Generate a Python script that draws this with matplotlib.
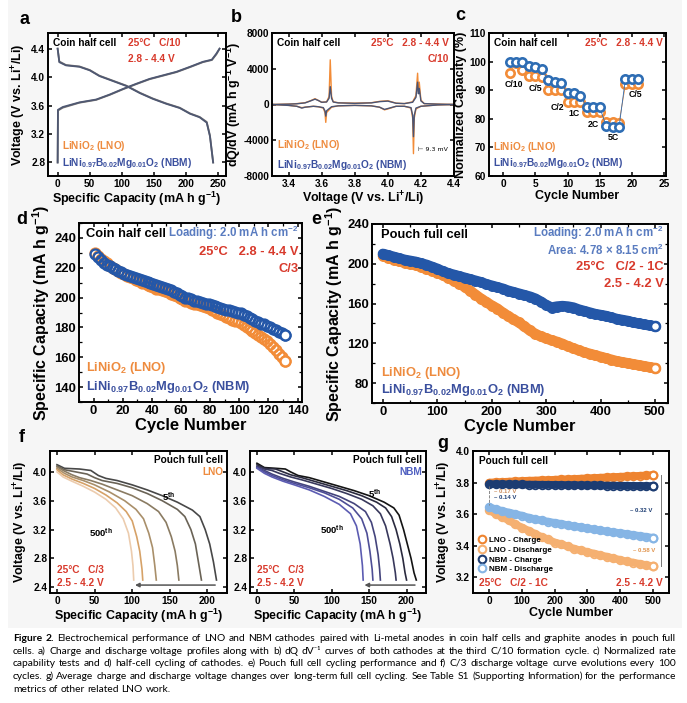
import matplotlib
matplotlib.use("Agg")
import matplotlib.pyplot as plt
from matplotlib.lines import Line2D
from matplotlib.patches import Rectangle
from matplotlib.ticker import AutoMinorLocator

plt.rcParams["font.family"] = ["Liberation Sans", "DejaVu Sans"]
plt.rcParams["font.weight"] = "bold"
plt.rcParams["axes.labelweight"] = "bold"
plt.rcParams["axes.unicode_minus"] = False
plt.rcParams["mathtext.fontset"] = "custom"
plt.rcParams["mathtext.rm"] = "Liberation Sans:bold"
plt.rcParams["mathtext.it"] = "Liberation Sans:bold:italic"
plt.rcParams["mathtext.bf"] = "Liberation Sans:bold"
plt.rcParams["mathtext.default"] = "rm"

W, H = 687, 703

ORANGE = "#f28c38"
BLUE = "#2457a8"
TXT_ORANGE = "#ee8b3e"
TXT_BLUE = "#3a4f9e"
RED = "#d83a2c"
LOAD_BLUE = "#5a7cc0"

LNO_LABEL = "LiNiO$_2$ (LNO)"
NBM_LABEL = "LiNi$_{0.97}$B$_{0.02}$Mg$_{0.01}$O$_2$ (NBM)"

# ---- a) charge / discharge profiles (C/10)
a_chg_cap = [0, 0.5, 8, 34, 60, 81, 102, 122, 143, 164, 185, 206, 226, 240, 247, 252]
a_chg_v = [2.80, 3.53, 3.57, 3.64, 3.68, 3.75, 3.83, 3.90, 3.97, 4.02, 4.07, 4.14, 4.21, 4.24, 4.32, 4.40]
a_dis_cap = [0, 2.6, 13, 34, 50, 65, 86, 107, 128, 148, 169, 190, 206, 221, 232, 237, 242]
a_dis_v = [4.40, 4.22, 4.17, 4.15, 4.10, 4.02, 3.95, 3.88, 3.78, 3.70, 3.63, 3.57, 3.49, 3.44, 3.37, 3.18, 2.80]
a_nbm_chg_v = [2.80, 3.54, 3.58, 3.645, 3.685, 3.755, 3.835, 3.905, 3.975, 4.025, 4.075, 4.145, 4.215, 4.245, 4.33, 4.40]
a_nbm_dis_v = [4.40, 4.21, 4.165, 4.145, 4.095, 4.015, 3.945, 3.875, 3.775, 3.695, 3.625, 3.565, 3.485, 3.435, 3.36, 3.17, 2.80]

# ---- b) dQ/dV
b_v_chg = [3.30, 3.40, 3.45, 3.50, 3.53, 3.56, 3.58, 3.60, 3.63, 3.645, 3.652, 3.66, 3.67, 3.70,
           3.80, 3.90, 3.95, 4.00, 4.05, 4.10, 4.15, 4.17, 4.18, 4.185, 4.19, 4.20, 4.22, 4.30, 4.40]
b_lno_chg = [0, 50, 100, 200, 400, 650, 450, 250, 300, 900, 5000, 900, 300, 200,
             150, 200, 350, 420, 150, 100, 300, 1000, 3500, 1400, 2500, 500, 100, 50, 0]
b_nbm_chg = [0, 40, 80, 180, 380, 600, 450, 250, 280, 700, 2000, 700, 280, 180,
             130, 180, 320, 380, 140, 100, 250, 800, 2500, 1200, 1800, 400, 100, 40, 0]
b_v_dis = [3.30, 3.40, 3.45, 3.48, 3.50, 3.55, 3.58, 3.61, 3.62, 3.625, 3.63, 3.66, 3.70, 3.80,
           3.90, 3.95, 3.98, 4.00, 4.05, 4.10, 4.14, 4.15, 4.155, 4.16, 4.17, 4.20, 4.30, 4.40]
b_lno_dis = [0, -100, -200, -350, -300, -200, -250, -400, -900, -2000, -900, -300, -150, -100,
             -150, -300, -600, -500, -200, -200, -400, -1500, -5500, -1500, -500, -200, -50, 0]
b_nbm_dis = [0, -100, -200, -400, -300, -200, -250, -350, -700, -1300, -700, -250, -150, -100,
             -150, -300, -550, -450, -200, -200, -350, -1200, -3600, -1200, -400, -200, -50, 0]

# ---- c) rate capability
c_cycles = list(range(1, 22))
c_lno = [96, 99.5, 97, 95, 95, 94.5, 90, 90, 90, 86, 86, 86, 82.5, 82.5, 82.5, 79, 79, 78.5, 92, 92, 92]
c_nbm = [100, 100, 100, 98.5, 98, 97.5, 93.5, 93, 92.5, 89, 89, 88, 84, 84, 84, 77.5, 77, 77, 94, 94, 94]
c_rate_labels = ["C/10", "C/5", "C/2", "1C", "2C", "5C", "C/5"]
c_rate_x = [1.6, 5.0, 8.5, 11.1, 14.0, 17.2, 20.5]
c_rate_y = [92, 90.5, 84, 82, 78, 73.5, 88.5]

# ---- d) half cell cycling, C/3 (every 2nd cycle)
d_cycles = list(range(1, 132, 2))
d_lno = [230, 228, 226, 224.5, 223, 221.5, 220, 219, 218, 216.5, 215.5, 214.5, 213.5, 213, 212, 211,
         210, 209.5, 208.5, 207.5, 207, 206, 205.5, 205, 204.5, 203.5, 202.5, 201.5, 201, 200, 199,
         198, 197.5, 196.5, 196, 195.5, 195, 194.5, 194, 193, 192, 191, 190, 189, 188, 187, 186,
         185, 184.5, 184, 183, 181.5, 180, 179, 177.5, 176, 175, 173.5, 172, 171, 169, 167, 165,
         162, 160, 157.5]
d_nbm = [229, 227, 225, 223.5, 222, 221, 220, 219, 218, 217, 216, 215, 214.5, 214, 213, 212.5,
         212, 211, 210.5, 210, 209, 208.5, 208, 207, 206.5, 206, 205, 204, 203, 202, 201, 200,
         199.5, 199, 198, 197.5, 197, 196.5, 196, 195.5, 195, 194.5, 194, 193, 192.5, 192, 191.5,
         191, 190.5, 190, 189.5, 188.5, 187.5, 186.5, 185.5, 184.5, 183.5, 182.5, 182, 181, 180,
         179, 178, 177, 176, 175]

# ---- e) pouch full cell cycling (every 10th cycle)
e_cycles = list(range(0, 501, 10))
e_lno = [208, 206, 204, 202.5, 201, 200, 198.5, 197, 195, 193, 191, 188.5, 186, 183, 180, 177,
         173, 169, 165, 161.5, 158, 155, 151, 147.5, 144, 141, 137, 133, 129.5, 127, 125, 123,
         121.5, 119.5, 117, 115, 113, 111, 109.5, 108, 106.5, 105, 103.5, 102, 101, 100, 99, 98,
         97, 96, 95]
e_nbm = [210, 208.5, 207, 205.5, 204, 203, 202, 200.5, 199, 197, 195, 192.5, 190.5, 189, 187.5,
         186, 184.5, 183, 181.5, 179.5, 178, 176.5, 175, 173, 171.5, 170, 168.5, 167, 165, 162,
         158.5, 156, 157, 157.5, 157, 156, 154, 152.5, 151, 149.5, 148.5, 147.5, 146, 144.5,
         143.5, 142.5, 141, 140, 139, 138, 137]

# ---- f) C/3 discharge curves every 100 cycles
f_cycle_names = ["5th", "100th", "200th", "300th", "400th", "500th"]
f_lno_caps = [
    [0, 10, 30, 45, 55, 65, 80, 100, 120, 140, 160, 180, 190, 197, 203, 208, 212],
    [0, 10, 25, 40, 50, 60, 80, 100, 120, 140, 160, 170, 178, 184, 188, 192],
    [0, 10, 20, 30, 45, 60, 80, 100, 120, 135, 145, 152, 157, 160, 162],
    [0, 10, 20, 35, 50, 70, 90, 105, 115, 122, 127, 130, 132],
    [0, 8, 20, 35, 50, 65, 80, 92, 100, 106, 110, 113, 114],
    [0, 8, 20, 35, 50, 65, 78, 88, 95, 99, 101, 102],
]
f_lno_volts = [
    [4.10, 4.05, 4.04, 4.02, 3.95, 3.91, 3.88, 3.82, 3.75, 3.67, 3.58, 3.47, 3.38, 3.20, 3.00, 2.75, 2.50],
    [4.08, 4.03, 4.00, 3.97, 3.92, 3.88, 3.84, 3.78, 3.70, 3.60, 3.48, 3.38, 3.20, 3.00, 2.75, 2.50],
    [4.07, 4.01, 3.96, 3.92, 3.88, 3.83, 3.75, 3.67, 3.56, 3.45, 3.30, 3.10, 2.90, 2.70, 2.50],
    [4.05, 3.98, 3.93, 3.88, 3.82, 3.72, 3.60, 3.48, 3.35, 3.15, 2.95, 2.70, 2.50],
    [4.03, 3.96, 3.90, 3.84, 3.77, 3.68, 3.57, 3.45, 3.32, 3.10, 2.90, 2.65, 2.50],
    [4.00, 3.93, 3.87, 3.80, 3.72, 3.62, 3.50, 3.35, 3.15, 2.90, 2.70, 2.50],
]
f_nbm_caps = [
    [0, 10, 25, 38, 45, 55, 70, 90, 110, 130, 150, 170, 183, 190, 196, 201, 206, 210, 213],
    [0, 10, 25, 35, 45, 60, 80, 100, 120, 140, 160, 172, 180, 186, 191, 195, 198, 200],
    [0, 10, 20, 30, 45, 60, 80, 100, 120, 140, 155, 165, 172, 178, 182, 185, 186],
    [0, 10, 20, 35, 50, 70, 90, 110, 130, 145, 153, 158, 162, 164, 165],
    [0, 10, 20, 35, 50, 70, 90, 110, 128, 140, 147, 151, 154, 155],
    [0, 10, 20, 35, 50, 70, 90, 110, 125, 133, 138, 141, 142],
]
f_nbm_volts = [
    [4.12, 4.06, 4.05, 4.04, 4.00, 3.95, 3.92, 3.86, 3.80, 3.74, 3.67, 3.58, 3.50, 3.40, 3.20, 3.00, 2.80, 2.60, 2.50],
    [4.10, 4.05, 4.04, 4.00, 3.96, 3.92, 3.86, 3.80, 3.74, 3.67, 3.58, 3.50, 3.38, 3.20, 3.00, 2.80, 2.60, 2.50],
    [4.08, 4.04, 4.02, 3.98, 3.93, 3.89, 3.83, 3.77, 3.70, 3.62, 3.53, 3.42, 3.25, 3.00, 2.80, 2.60, 2.50],
    [4.07, 4.02, 3.97, 3.91, 3.86, 3.80, 3.73, 3.66, 3.56, 3.45, 3.30, 3.10, 2.85, 2.65, 2.50],
    [4.06, 4.00, 3.95, 3.89, 3.84, 3.78, 3.71, 3.62, 3.50, 3.35, 3.15, 2.90, 2.65, 2.50],
    [4.05, 3.98, 3.93, 3.87, 3.82, 3.75, 3.66, 3.55, 3.42, 3.25, 3.00, 2.70, 2.50],
]
f_lno_colors = ["#484848", "#6a6356", "#8a7b62", "#a98f6a", "#d6a268", "#ecccae"]
f_nbm_colors = ["#141414", "#2a2a3e", "#38385c", "#44447c", "#4e4e96", "#5c5cb2"]
f_arrow_v = 2.43

# ---- g) average voltages (every 20th cycle)
g_cycles = list(range(0, 501, 20))
g_lno_chg = [3.800, 3.802, 3.804, 3.806, 3.808, 3.810, 3.812, 3.813, 3.815, 3.816, 3.818, 3.820, 3.821,
             3.823, 3.825, 3.827, 3.829, 3.831, 3.833, 3.835, 3.837, 3.839, 3.841, 3.843, 3.845, 3.847]
g_nbm_chg = [3.790, 3.790, 3.789, 3.789, 3.788, 3.788, 3.787, 3.787, 3.786, 3.786, 3.785, 3.785, 3.784,
             3.784, 3.783, 3.783, 3.782, 3.782, 3.781, 3.781, 3.780, 3.780, 3.779, 3.779, 3.778, 3.778]
g_lno_dis = [3.625, 3.600, 3.580, 3.560, 3.535, 3.515, 3.495, 3.475, 3.455, 3.440, 3.420, 3.410, 3.395,
             3.380, 3.370, 3.360, 3.350, 3.340, 3.330, 3.320, 3.310, 3.300, 3.293, 3.285, 3.277, 3.270]
g_nbm_dis = [3.645, 3.630, 3.620, 3.610, 3.600, 3.590, 3.578, 3.568, 3.560, 3.552, 3.545, 3.538, 3.530,
             3.523, 3.517, 3.510, 3.503, 3.497, 3.490, 3.485, 3.480, 3.474, 3.468, 3.462, 3.456, 3.450]
g_names = ["LNO - Charge", "LNO - Discharge", "NBM - Charge", "NBM - Discharge"]
g_colors = ["#ee8430", "#f5b071", "#1c3c72", "#86b5e5"]

caption_lines = [
    [("Figure 2.", "bold"), ("Electrochemical performance of LNO and NBM cathodes paired with Li-metal anodes "
                             "in coin half cells and graphite anodes in pouch full", "normal")],
    [("cells. a) Charge and discharge voltage profiles along with b) dQ dV\u207b\u00b9 curves of both cathodes "
      "at the third C/10 formation cycle. c) Normalized rate", "normal")],
    [("capability tests and d) half-cell cycling of cathodes. e) Pouch full cell cycling performance and f) C/3 "
      "discharge voltage curve evolutions every 100", "normal")],
    [("cycles. g) Average charge and discharge voltage changes over long-term full cell cycling. See Table S1 "
      "(Supporting Information) for the performance", "normal")],
    [("metrics of other related LNO work.", "normal")],
]


fig = plt.figure(figsize=(W / 100, H / 100), dpi=100)
fig.patches.append(Rectangle((8 / W, 1 - 628 / H), 674 / W, 628 / H, transform=fig.transFigure,
                             facecolor="#f6f6f6", edgecolor="none", zorder=-10))


def px_axes(l, t, r, b):
    return fig.add_axes([l / W, 1 - b / H, (r - l) / W, (b - t) / H])


def style(ax, fs, minor=False):
    ax.tick_params(direction="in", top=True, right=True, labelsize=fs, width=1.1, length=3, pad=2)
    if minor:
        ax.xaxis.set_minor_locator(AutoMinorLocator(2))
        ax.yaxis.set_minor_locator(AutoMinorLocator(2))
        ax.tick_params(which="minor", direction="in", top=True, right=True, width=0.9, length=2)
    for s in ax.spines.values():
        s.set_linewidth(1.4)


def txt(ax, x, y, s, color="black", ha="left", fs=7.5, **kw):
    ax.text(x, y, s, transform=ax.transAxes, color=color, ha=ha, va="center", fontsize=fs,
            fontweight="bold", **kw)


def panel_label(x, y, s):
    fig.text(x / W, 1 - y / H, s, fontsize=13, fontweight="bold", ha="center", va="center")


SMALL_TICK, SMALL_LAB, SMALL_TXT = 7.3, 9, 7.3
BIG_TICK, BIG_LAB, BIG_TXT = 9.4, 11.5, 9.3

# a
ax = px_axes(48, 33, 226, 176)
ax.plot(a_chg_cap, a_chg_v, color="#7c7874", lw=1.3)
ax.plot(a_dis_cap, a_dis_v, color="#7c7874", lw=1.3)
ax.plot(a_chg_cap, a_nbm_chg_v, color="#4f5872", lw=1.3)
ax.plot(a_dis_cap, a_nbm_dis_v, color="#4f5872", lw=1.3)
ax.set_xlim(-15, 262)
ax.set_ylim(2.61, 4.62)
ax.set_xticks([0, 50, 100, 150, 200, 250])
ax.set_yticks([2.8, 3.2, 3.6, 4.0, 4.4])
style(ax, SMALL_TICK)
ax.set_xlabel("Specific Capacity (mA h g$^{-1}$)", fontsize=SMALL_LAB, labelpad=1)
ax.set_ylabel("Voltage (V vs. Li$^{+}$/Li)", fontsize=SMALL_LAB, labelpad=2)
txt(ax, 0.03, 0.93, "Coin half cell", fs=SMALL_TXT)
txt(ax, 0.45, 0.93, "25\u00b0C   C/10", color=RED, fs=SMALL_TXT)
txt(ax, 0.45, 0.82, "2.8 - 4.4 V", color=RED, fs=SMALL_TXT)
txt(ax, 0.08, 0.21, LNO_LABEL, color=TXT_ORANGE, fs=SMALL_TXT)
txt(ax, 0.08, 0.09, NBM_LABEL, color=TXT_BLUE, fs=SMALL_TXT)
panel_label(25, 20, "a")

# b
ax = px_axes(272, 33, 454, 176)
ax.plot(b_v_chg, b_lno_chg, color=ORANGE, lw=1.0)
ax.plot(b_v_dis, b_lno_dis, color=ORANGE, lw=1.0)
ax.plot(b_v_chg, b_nbm_chg, color="#4a5575", lw=1.0)
ax.plot(b_v_dis, b_nbm_dis, color="#4a5575", lw=1.0)
ax.set_xlim(3.3, 4.4)
ax.set_ylim(-8000, 8000)
ax.set_xticks([3.4, 3.6, 3.8, 4.0, 4.2, 4.4])
ax.set_yticks([-8000, -4000, 0, 4000, 8000])
style(ax, SMALL_TICK)
ax.set_xlabel("Voltage (V vs. Li$^{+}$/Li)", fontsize=SMALL_LAB, labelpad=1)
ax.set_ylabel("dQ/dV (mA h g$^{-1}$ V$^{-1}$)", fontsize=SMALL_LAB, labelpad=0)
txt(ax, 0.03, 0.93, "Coin half cell", fs=SMALL_TXT)
txt(ax, 0.97, 0.93, "25\u00b0C   2.8 - 4.4 V", color=RED, ha="right", fs=SMALL_TXT)
txt(ax, 0.97, 0.82, "C/10", color=RED, ha="right", fs=SMALL_TXT)
txt(ax, 0.03, 0.22, LNO_LABEL, color=TXT_ORANGE, fs=SMALL_TXT)
txt(ax, 0.03, 0.08, NBM_LABEL, color=TXT_BLUE, fs=SMALL_TXT)
ax.text(4.18, -5000, "\u22a2 9.3 mV", fontsize=4.5, fontweight="normal", va="center",
        family=["DejaVu Sans"])
panel_label(236, 17, "b")

# c
ax = px_axes(489, 33, 666, 176)
ax.plot(c_cycles, c_lno, "-o", color=ORANGE, lw=0.6, ms=6, mfc="white", mec=ORANGE, mew=1.9)
ax.plot(c_cycles, c_nbm, "-o", color="#2e6db4", lw=0.6, ms=6, mfc="white", mec="#2e6db4", mew=1.9)
for s, x, y in zip(c_rate_labels, c_rate_x, c_rate_y):
    ax.text(x, y, s, fontsize=6.3, fontweight="bold", ha="center", va="center")
ax.set_xlim(-2.2, 25.3)
ax.set_ylim(60, 110)
ax.set_xticks([0, 5, 10, 15, 20, 25])
ax.set_yticks([60, 70, 80, 90, 100, 110])
style(ax, SMALL_TICK)
ax.set_xlabel("Cycle Number", fontsize=SMALL_LAB, labelpad=1)
ax.set_ylabel("Normalized Capacity (%)", fontsize=SMALL_LAB, labelpad=2)
txt(ax, 0.03, 0.93, "Coin half cell", fs=SMALL_TXT)
txt(ax, 0.98, 0.93, "25\u00b0C   2.8 - 4.4 V", color=RED, ha="right", fs=SMALL_TXT)
txt(ax, 0.02, 0.2, LNO_LABEL, color=TXT_ORANGE, fs=SMALL_TXT)
txt(ax, 0.02, 0.09, NBM_LABEL, color=TXT_BLUE, fs=SMALL_TXT)
panel_label(460, 15, "c")

# d
ax = px_axes(79, 223, 302, 402)
ax.plot(d_cycles, d_lno, "o", ms=7.2, mfc="none", mec=ORANGE, mew=1.6)
ax.plot(d_cycles[-1], d_lno[-1], "o", ms=7.2, mfc="white", mec=ORANGE, mew=1.7)
ax.plot(d_cycles, d_nbm, "o", ms=7.2, mfc="none", mec=BLUE, mew=1.6)
ax.plot(d_cycles[-1], d_nbm[-1], "o", ms=7.2, mfc="white", mec=BLUE, mew=1.7)
ax.set_xlim(-10, 143)
ax.set_ylim(130, 250)
ax.set_xticks(range(0, 141, 20))
ax.set_yticks(range(140, 241, 20))
style(ax, BIG_TICK, minor=True)
ax.set_xlabel("Cycle Number", fontsize=BIG_LAB + 0.5, labelpad=1)
ax.set_ylabel("Specific Capacity (mA h g$^{-1}$)", fontsize=BIG_LAB, labelpad=2)
txt(ax, 0.03, 0.94, "Coin half cell", fs=BIG_TXT)
txt(ax, 0.985, 0.945, "Loading: 2.0 mA h cm$^{-2}$", color=LOAD_BLUE, ha="right", fs=BIG_TXT - 1)
txt(ax, 0.985, 0.84, "25\u00b0C   2.8 - 4.4 V", color=RED, ha="right", fs=BIG_TXT)
txt(ax, 0.985, 0.745, "C/3", color=RED, ha="right", fs=BIG_TXT)
txt(ax, 0.03, 0.19, LNO_LABEL, color=TXT_ORANGE, fs=BIG_TXT)
txt(ax, 0.03, 0.085, NBM_LABEL, color=TXT_BLUE, fs=BIG_TXT)
panel_label(22, 219, "d")

# e
ax = px_axes(372, 224, 668, 403)
for vals, col in [(e_lno, ORANGE), (e_nbm, BLUE)]:
    ax.plot(e_cycles, vals, "-", color=col, lw=7.5, solid_capstyle="round")
    ax.plot(e_cycles, vals, "o", ms=6.5, mfc="none", mec=col, mew=1.4)
    ax.plot(e_cycles[-1], vals[-1], "o", ms=6.5, mfc="white", mec=col, mew=1.8)
ax.set_xlim(-20, 524)
ax.set_ylim(60, 240)
ax.set_xticks(range(0, 501, 100))
ax.set_yticks(range(80, 241, 40))
style(ax, BIG_TICK, minor=True)
ax.set_xlabel("Cycle Number", fontsize=BIG_LAB + 0.5, labelpad=1)
ax.set_ylabel("Specific Capacity (mA h g$^{-1}$)", fontsize=BIG_LAB, labelpad=2)
txt(ax, 0.03, 0.94, "Pouch full cell", fs=BIG_TXT)
txt(ax, 0.985, 0.95, "Loading: 2.0 mA h cm$^{-2}$", color=LOAD_BLUE, ha="right", fs=BIG_TXT - 1)
txt(ax, 0.985, 0.855, "Area: 4.78 \u00d7 8.15 cm$^{2}$", color=LOAD_BLUE, ha="right", fs=BIG_TXT - 1)
txt(ax, 0.985, 0.76, "25\u00b0C   C/2 - 1C", color=RED, ha="right", fs=BIG_TXT)
txt(ax, 0.985, 0.665, "2.5 - 4.2 V", color=RED, ha="right", fs=BIG_TXT)
txt(ax, 0.03, 0.17, LNO_LABEL, color=TXT_ORANGE, fs=BIG_TXT)
txt(ax, 0.03, 0.07, NBM_LABEL, color=TXT_BLUE, fs=BIG_TXT)
panel_label(316, 220, "e")

# f (LNO and NBM)
f_specs = [
    ((50, 451, 227, 593), f_lno_caps, f_lno_volts, f_lno_colors, "LNO", TXT_ORANGE, True,
     (148, 3.66), (58, 3.16)),
    ((250, 451, 426, 593), f_nbm_caps, f_nbm_volts, f_nbm_colors, "NBM", "#4f5fc0", False,
     (158, 3.70), (100, 3.20)),
]
for box, caps, volts, cols, name, ncol, ylab, pos5, pos500 in f_specs:
    ax = px_axes(*box)
    for cp, vv, col in zip(caps, volts, cols):
        ax.plot(cp, vv, color=col, lw=1.2)
    ax.annotate("", xy=(caps[-1][-1] - 2, f_arrow_v), xytext=(caps[0][-1] + 2, f_arrow_v),
                arrowprops=dict(arrowstyle="-|>", color="#555555", lw=1.1, mutation_scale=6))
    ax.text(*pos5, "5$^{th}$", fontsize=6.8, fontweight="bold", ha="center", va="center")
    ax.text(*pos500, "500$^{th}$", fontsize=6.8, fontweight="bold", ha="center", va="center")
    ax.set_xlim(-9.3, 226)
    ax.set_ylim(2.32, 4.29)
    ax.set_xticks([0, 50, 100, 150, 200])
    ax.set_yticks([2.4, 2.8, 3.2, 3.6, 4.0])
    style(ax, SMALL_TICK)
    ax.set_xlabel("Specific Capacity (mA h g$^{-1}$)", fontsize=SMALL_LAB, labelpad=1)
    if ylab:
        ax.set_ylabel("Voltage (V vs. Li$^{+}$/Li)", fontsize=SMALL_LAB, labelpad=2)
    txt(ax, 0.98, 0.94, "Pouch full cell", ha="right", fs=SMALL_TXT)
    txt(ax, 0.98, 0.85, name, color=ncol, ha="right", fs=SMALL_TXT)
    txt(ax, 0.04, 0.16, "25\u00b0C   C/3", color=RED, fs=SMALL_TXT)
    txt(ax, 0.04, 0.07, "2.5 - 4.2 V", color=RED, fs=SMALL_TXT)
panel_label(22, 438, "f")

# g
ax = px_axes(473, 451, 669, 593)
g_series = [g_lno_chg, g_lno_dis, g_nbm_chg, g_nbm_dis]
for vals, col in zip(g_series, g_colors):
    ax.plot(g_cycles, vals, "-", color=col, lw=5.5, solid_capstyle="round")
    ax.plot(g_cycles, vals, "o", ms=5.5, mfc="none", mec=col, mew=1.3)
    ax.plot(g_cycles[-1], vals[-1], "o", ms=5.5, mfc="white", mec=col, mew=1.6)
ax.plot([g_cycles[0], g_cycles[0]], [g_nbm_chg[0] - 0.01, g_nbm_dis[0] + 0.01], "--",
        color="#777777", lw=0.6)
ax.plot([g_cycles[-1] + 25, g_cycles[-1] + 25], [g_lno_chg[-1], g_lno_dis[-1]], "-",
        color="#777777", lw=0.7)
ax.text(15, 3.745, "\u2013 0.17 V", fontsize=4.3, color="#c98a5a", va="center")
ax.text(15, 3.705, "\u2013 0.14 V", fontsize=4.3, color="#1c3c72", va="center")
ax.text(430, 3.625, "\u2013 0.32 V", fontsize=4.3, color="#1c3c72", va="center")
ax.text(440, 3.37, "\u2013 0.58 V", fontsize=4.3, color="#e0924a", va="center")
handles = [Line2D([], [], marker="o", ls="none", ms=5.5, mfc="none", mec=c, mew=1.5) for c in g_colors]
ax.legend(handles, g_names, loc="lower left", bbox_to_anchor=(-0.01, 0.1), frameon=False,
          fontsize=5.8, handletextpad=0.3, labelspacing=0.25, borderpad=0.2, handlelength=1.2)
ax.set_xlim(-50, 550)
ax.set_ylim(3.1, 4.0)
ax.set_xticks(range(0, 501, 100))
ax.set_yticks([3.2, 3.4, 3.6, 3.8, 4.0])
style(ax, SMALL_TICK)
ax.set_xlabel("Cycle Number", fontsize=SMALL_LAB, labelpad=1)
ax.set_ylabel("Voltage (V vs. Li$^{+}$/Li)", fontsize=SMALL_LAB, labelpad=2)
txt(ax, 0.03, 0.93, "Pouch full cell", fs=SMALL_TXT)
txt(ax, 0.03, 0.07, "25\u00b0C   C/2 - 1C", color=RED, fs=SMALL_TXT)
txt(ax, 0.97, 0.07, "2.5 - 4.2 V", color=RED, ha="right", fs=SMALL_TXT)
panel_label(443, 443, "g")

# caption, justified between x0 and x1
CAP_FONT = ["Lato", "DejaVu Sans"]
renderer = fig.canvas.get_renderer()
x0, x1 = 13, 676
baselines = [641, 654, 666, 679, 692]


def build_line(parts, y, fs):
    items = []
    for text, wt in parts:
        for w in text.split(" "):
            t = fig.text(0, 1 - y / H, w, fontsize=fs, fontweight=wt, family=CAP_FONT,
                         ha="left", va="baseline")
            items.append(t)
    return items


fs_cap = 7.4
probe = build_line(caption_lines[0], baselines[0], fs_cap)
natural = sum(t.get_window_extent(renderer).width for t in probe) + 2.4 * (len(probe) - 1)
for t in probe:
    t.remove()
if natural > (x1 - x0):
    fs_cap *= (x1 - x0) / natural

for i, (parts, y) in enumerate(zip(caption_lines, baselines)):
    items = build_line(parts, y, fs_cap)
    widths = [t.get_window_extent(renderer).width for t in items]
    last = i == len(caption_lines) - 1
    gap = 2.6 if last else ((x1 - x0) - sum(widths)) / (len(items) - 1)
    x = x0
    for t, wd in zip(items, widths):
        t.set_x(x / W)
        x += wd + gap

fig.savefig("out.png", dpi=100)
